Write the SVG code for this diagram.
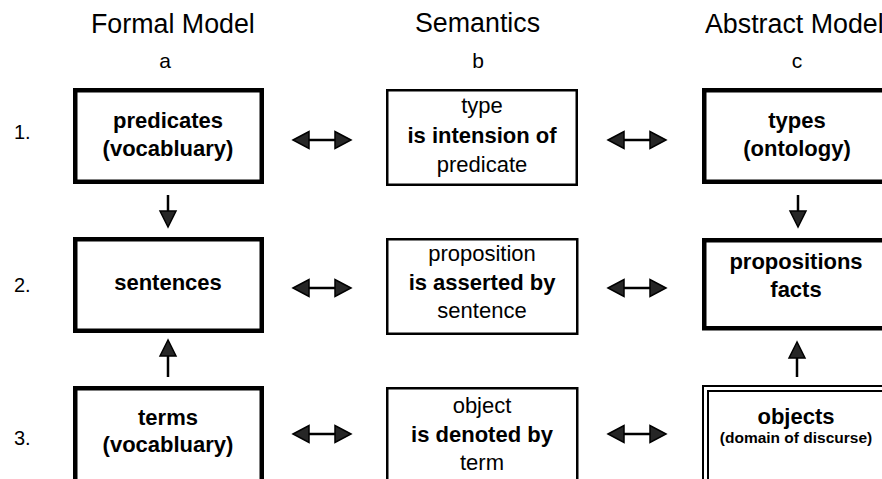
<svg xmlns="http://www.w3.org/2000/svg" width="882" height="479" viewBox="0 0 882 479">
<style>
text{font-family:"Liberation Sans",Arial,sans-serif;fill:#000}
.hd{font-size:26.8px}
.lt{font-size:21px;text-anchor:middle}
.rl{font-size:20px}
.bt{font-size:22px;font-weight:bold;text-anchor:middle}
.rt{font-size:22px;text-anchor:middle}
.sm{font-size:15.5px;font-weight:bold;text-anchor:middle}
.thick{fill:#fff;stroke:#000;stroke-width:4.5}
.thin{fill:#fff;stroke:#000;stroke-width:2.5}
.dbl{fill:none;stroke:#000;stroke-width:2}
.ln{stroke:#000;stroke-width:2.5;fill:none}
.ah{fill:#262626;stroke:#000;stroke-width:1.5;stroke-linejoin:miter}
</style>
<rect width="882" height="479" fill="#fff"/>
<g id="headers">
<text class="hd" x="91" y="33">Formal Model</text>
<text class="hd" x="415" y="32">Semantics</text>
<text class="hd" x="705" y="33">Abstract Model</text>
<text class="lt" x="165" y="68">a</text>
<text class="lt" x="478" y="68">b</text>
<text class="lt" x="797" y="68">c</text>
<text class="rl" x="14" y="139">1.</text>
<text class="rl" x="14" y="292">2.</text>
<text class="rl" x="14" y="445">3.</text>
</g>
<g id="a1"><rect class="thick" x="75.25" y="90.25" width="186.5" height="91.5"/>
<text class="bt" x="168" y="128">predicates</text><text class="bt" x="168" y="156">(vocabluary)</text></g>
<g id="a2"><rect class="thick" x="75.25" y="239.25" width="186.5" height="91.5"/>
<text class="bt" x="168" y="290">sentences</text></g>
<g id="a3"><rect class="thick" x="75.25" y="388.25" width="186.5" height="100"/>
<text class="bt" x="168" y="425">terms</text><text class="bt" x="168" y="452">(vocabluary)</text></g>
<g id="b1"><rect class="thin" x="387.25" y="90.25" width="189.5" height="94.5"/>
<text class="rt" x="482" y="113">type</text><text class="bt" x="482" y="143">is intension of</text><text class="rt" x="482" y="172">predicate</text></g>
<g id="b2"><rect class="thin" x="387.25" y="239.25" width="190" height="94.5"/>
<text class="rt" x="482" y="261">proposition</text><text class="bt" x="482" y="290">is asserted by</text><text class="rt" x="482" y="318">sentence</text></g>
<g id="b3"><rect class="thin" x="387.25" y="388.25" width="190" height="100"/>
<text class="rt" x="482" y="413">object</text><text class="bt" x="482" y="442">is denoted by</text><text class="rt" x="482" y="470">term</text></g>
<g id="c1"><rect class="thick" x="704.25" y="90.25" width="200" height="91.5"/>
<text class="bt" x="797" y="128">types</text><text class="bt" x="797" y="156">(ontology)</text></g>
<g id="c2"><rect class="thick" x="704.25" y="240.25" width="200" height="88"/>
<text class="bt" x="796" y="269">propositions</text><text class="bt" x="796" y="297">facts</text></g>
<g id="c3"><rect class="dbl" x="703" y="386" width="200" height="120"/><rect class="dbl" x="708" y="391" width="200" height="120"/>
<rect x="710" y="393" width="180" height="100" fill="#fff"/>
<text class="bt" x="796" y="424">objects</text><text class="sm" x="796" y="443">(domain of discurse)</text></g>
<g id="connectors">
<line class="ln" x1="308" y1="140" x2="336" y2="140"/>
<polygon class="ah" points="293,140 309,131.5 309,148.5"/><polygon class="ah" points="351,140 335,131.5 335,148.5"/>
<line class="ln" x1="623" y1="140" x2="651" y2="140"/>
<polygon class="ah" points="608,140 624,131.5 624,148.5"/><polygon class="ah" points="666,140 650,131.5 650,148.5"/>
<line class="ln" x1="308" y1="288" x2="336" y2="288"/>
<polygon class="ah" points="293,288 309,279.5 309,296.5"/><polygon class="ah" points="351,288 335,279.5 335,296.5"/>
<line class="ln" x1="623" y1="288" x2="651" y2="288"/>
<polygon class="ah" points="608,288 624,279.5 624,296.5"/><polygon class="ah" points="666,288 650,279.5 650,296.5"/>
<line class="ln" x1="308" y1="434" x2="336" y2="434"/>
<polygon class="ah" points="293,434 309,425.5 309,442.5"/><polygon class="ah" points="351,434 335,425.5 335,442.5"/>
<line class="ln" x1="623" y1="434" x2="651" y2="434"/>
<polygon class="ah" points="608,434 624,425.5 624,442.5"/><polygon class="ah" points="666,434 650,425.5 650,442.5"/>
<line class="ln" x1="168" y1="195" x2="168" y2="212"/>
<polygon class="ah" points="168,227 160,211 176,211"/>
<line class="ln" x1="168" y1="377" x2="168" y2="355"/>
<polygon class="ah" points="168,340 160,356 176,356"/>
<line class="ln" x1="798" y1="195" x2="798" y2="212"/>
<polygon class="ah" points="798,227 790,211 806,211"/>
<line class="ln" x1="797" y1="377" x2="797" y2="357"/>
<polygon class="ah" points="797,342 789,358 805,358"/>
</g>
</svg>
